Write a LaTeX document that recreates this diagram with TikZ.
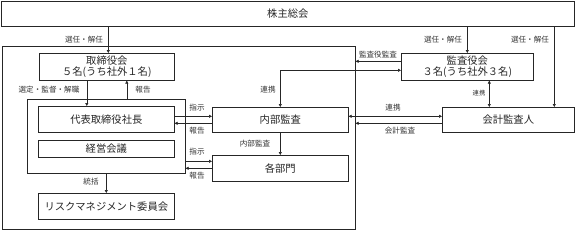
\documentclass[tikz,border=0pt]{standalone}
\usepackage{fontspec}
\setmainfont{Noto Sans CJK JP}
\usetikzlibrary{arrows.meta}
\begin{document}
\begin{tikzpicture}[x=1pt,y=-1pt,
  box/.style={draw=black!85,line width=0.6pt,inner sep=0pt,anchor=north west,font=\fontsize{10.3}{11.5}\selectfont,align=center,text=black!85},
  lbl/.style={font=\fontsize{7.6}{8}\selectfont,text=black!80,inner sep=0pt},
  arr/.style={draw=black!85,line width=0.6pt,-{Triangle[length=3pt,width=3pt]}},
  arrb/.style={draw=black!85,line width=0.6pt,{Triangle[length=3pt,width=3pt]}-{Triangle[length=3pt,width=3pt]}}]
\useasboundingbox (0,0) rectangle (575,231);
% boxes
\node[box,minimum width=573pt,minimum height=25pt] (kabu) at (1,1) {株主総会};
\node[box,minimum width=353pt,minimum height=183pt] (company) at (2,46) {};
\node[box,minimum width=135pt,minimum height=27pt] (tori) at (39,53) {取締役会\\５名(うち社外１名)};
\node[box,minimum width=158pt,minimum height=74pt] (group) at (27,99) {};
\node[box,minimum width=136pt,minimum height=26pt] (daihyo) at (38,106) {代表取締役社長};
\node[box,minimum width=136pt,minimum height=17pt] (keiei) at (38,140) {経営会議};
\node[box,minimum width=136pt,minimum height=26pt] (risk) at (38,193) {リスクマネジメント委員会};
\node[box,minimum width=136pt,minimum height=25pt] (naibu) at (212,107) {内部監査};
\node[box,minimum width=136pt,minimum height=26pt] (kakubu) at (212,155) {各部門};
\node[box,minimum width=132pt,minimum height=27pt] (kansa) at (401,53) {監査役会\\３名(うち社外３名)};
\node[box,minimum width=132pt,minimum height=25pt] (kaikei) at (442,107) {会計監査人};
% connectors
\draw[arr] ([xshift=1.5pt]tori.north |- kabu.south) -- ([xshift=1.5pt]tori.north);
\draw[arr] ([xshift=-20pt]tori.south) -- ([xshift=-20pt]tori.south |- daihyo.north);
\draw[arr] ([xshift=20pt]tori.south |- group.north) -- ([xshift=20pt]tori.south);
\draw[arr] ([yshift=3pt]daihyo.east) -- ([yshift=3pt]daihyo.east -| naibu.west);
\draw[arr] ([yshift=-3.5pt]naibu.west) -- ([yshift=-3.5pt]naibu.west -| daihyo.east);
\draw[arr] (naibu.south) -- (kakubu.north);
\draw[arr] ([yshift=7pt]kakubu.west -| group.east) -- ([yshift=7pt]kakubu.west);
\draw[arr] (kakubu.west) -- (kakubu.west -| group.east);
\draw[arr] (group.south) -- (risk.north);
\draw[arr] (kansa.north |- kabu.south) -- (kansa.north);
\draw[arr] ([xshift=46pt]kaikei.north |- kabu.south) -- ([xshift=46pt]kaikei.north);
\draw[arr] ([yshift=5.5pt]kansa.west) -- ([yshift=5.5pt]kansa.west -| company.east);
\draw[arrb] ([yshift=-3.5pt]kansa.west) -| (naibu.north);
\draw[arrb] ([xshift=22pt]kansa.south) -- ([xshift=22pt]kansa.south |- kaikei.north);
\draw[arrb] ([yshift=3.5pt]naibu.east) -- ([yshift=3.5pt]naibu.east -| kaikei.west);
\draw[arr] ([yshift=-3.5pt]kaikei.west) -- ([yshift=-3.5pt]kaikei.west -| company.east);
% labels
\node[lbl] (l1) at (84,40) {選任・解任};
\node[lbl] (l2) at (49,90) {選定・監督・解職};
\node[lbl] (l3) at (143,90) {報告};
\node[lbl] (l4) at (268,90) {連携};
\node[lbl] (l5) at (378,55) {監査役監査};
\node[lbl] (l6) at (443,40) {選任・解任};
\node[lbl] (l7) at (530,40) {選任・解任};
\node[lbl,font=\fontsize{6.3}{7}\selectfont] (l8) at (479,93) {連携};
\node[lbl] (l9) at (197,108) {指示};
\node[lbl] (l10) at (393,108) {連携};
\node[lbl] (l11) at (197,131) {報告};
\node[lbl] (l12) at (400,131) {会計監査};
\node[lbl] (l13) at (255,144) {内部監査};
\node[lbl] (l14) at (197,152) {指示};
\node[lbl] (l15) at (197,176) {報告};
\node[lbl] (l16) at (91,182) {統括};
\end{tikzpicture}
\end{document}
